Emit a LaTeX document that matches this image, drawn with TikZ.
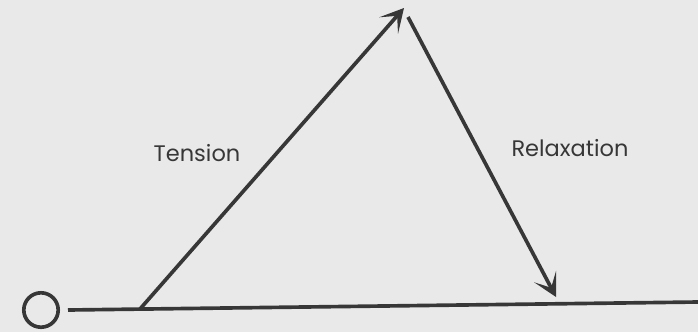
\documentclass[tikz,border=0pt]{standalone}
\usepackage{fontspec}
\setmainfont{Poppins}
\usepackage{xcolor}
\usepackage{tikz}
\usetikzlibrary{arrows.meta, positioning}
\definecolor{page}{RGB}{233,233,233}
\definecolor{ink}{RGB}{55,55,55}

\begin{document}
\begin{tikzpicture}[x=0.025cm, y=-0.025cm,
    >={Stealth[length=0.58cm, width=0.62cm, inset=0.32cm]},
    stroke/.style={draw=ink, line width=2.6pt},
    word/.style={text=ink, font=\fontsize{16}{19}\selectfont}]
    % Nền trang
    \fill[page] (0,0) rectangle (698,332);
    \useasboundingbox (0,0) rectangle (698,332);

    % Điểm gốc và trục ngang
    \node[circle, stroke, minimum size=0.86cm, inner sep=0pt] (O) at (41,310) {};
    \coordinate (base0) at (68,310);
    \coordinate (base1) at (698,302);
    \draw[stroke] (base0) -- (base1);

    % Hai mũi tên
    \coordinate (tstart) at (140,309);
    \coordinate (apex) at (404,8);
    \coordinate (rstart) at (408,17);
    \coordinate (rend) at (556,297);
    \draw[stroke, ->] (tstart) -- (apex);
    \draw[stroke, ->] (rstart) -- (rend);

    % Nhãn
    \node[word] (tension) at (197,153) {Tension};
    \node[word] (relax) at (570,148) {Relaxation};
\end{tikzpicture}
\end{document}
